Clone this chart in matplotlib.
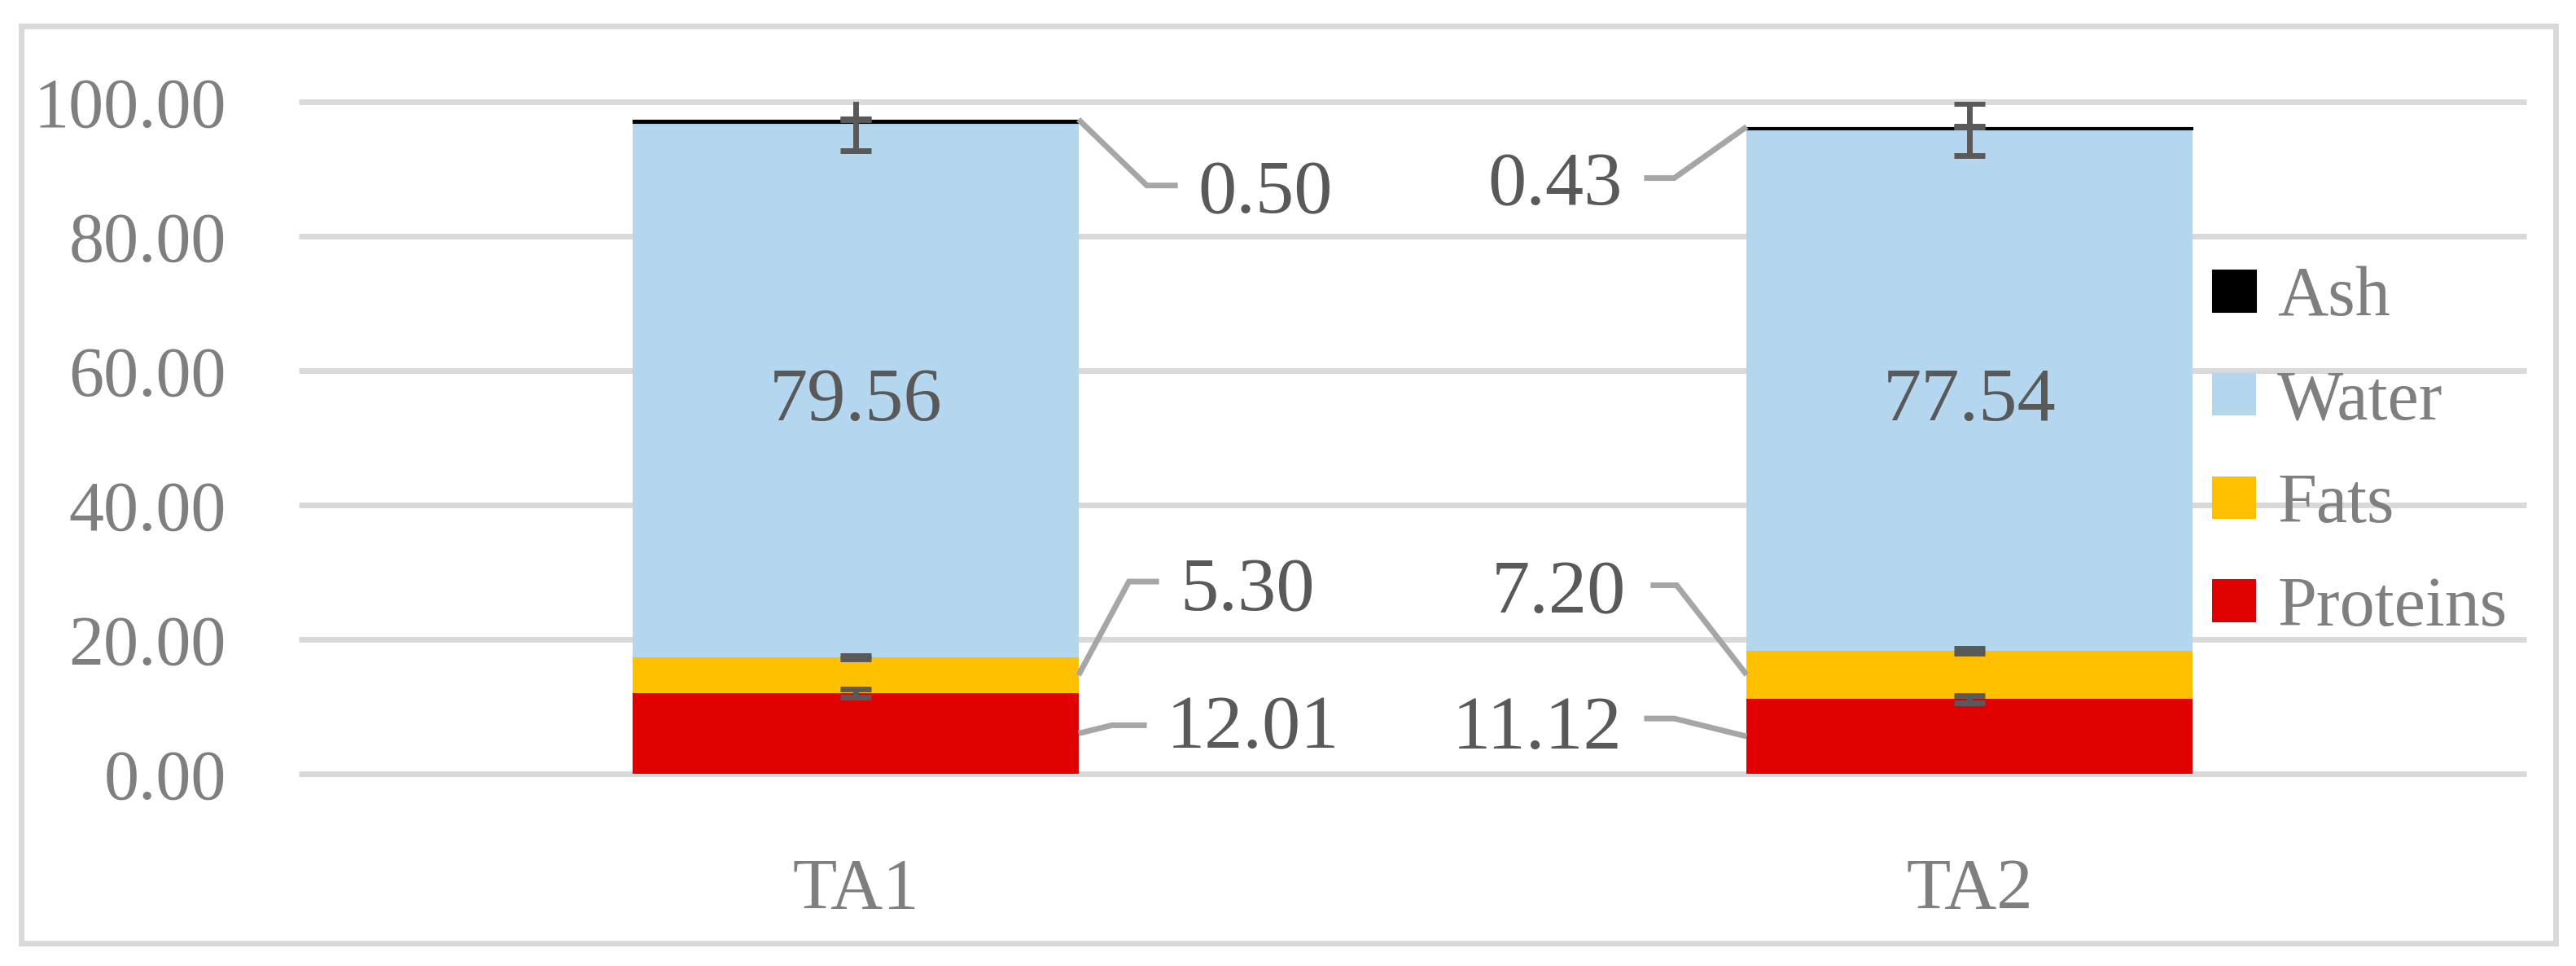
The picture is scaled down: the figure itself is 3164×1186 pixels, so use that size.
import matplotlib
matplotlib.use("Agg")
import matplotlib.pyplot as plt
from matplotlib.patches import Rectangle
import numpy as np

# data
samples = ["TA1", "TA2"]
proteins = [12.01, 11.12]
fats = [5.30, 7.20]
water = [79.56, 77.54]
ash = [0.50, 0.43]

proteins_err = [0.6, 0.55]
fats_err = [0.25, 0.4]
water_err = [4.1, 3.9]
ash_err = [0.03, 0.03]

yticks = [0, 20, 40, 60, 80, 100]

c_prot = "#E00000"
c_fats = "#FFC000"
c_water = "#B4D7EF"
c_ash = "#000000"
grid_c = "#D9D9D9"
tick_c = "#7F7F7F"
lab_c = "#595959"
lead_c = "#A6A6A6"

plt.rcParams["font.family"] = ["Liberation Serif", "DejaVu Serif"]

W, H = 3164, 1186
fig = plt.figure(figsize=(W / 100, H / 100), dpi=100)
ax = fig.add_axes([367 / W, (H - 950) / H, (3103 - 367) / W, (950 - 125) / H])
ax.set_xlim(-0.5, 1.5)
ax.set_ylim(0, 100)

# outer chart border
fig.patches.append(Rectangle((26 / W, (H - 1158) / H), (3139 - 26) / W, (1158 - 32) / H,
                             transform=fig.transFigure, fill=False, ec=grid_c, lw=5))

x = np.arange(len(samples))
bw = 0.4
b1 = np.array(proteins)
b2 = b1 + np.array(fats)
b3 = b2 + np.array(water)
b4 = b3 + np.array(ash)

ax.hlines(yticks, -0.5, 1.5, colors=grid_c, lw=5, zorder=0, clip_on=False)

ax.bar(x, proteins, bw, color=c_prot, label="Proteins", zorder=2, lw=0)
ax.bar(x, fats, bw, bottom=b1, color=c_fats, label="Fats", zorder=2, lw=0)
ax.bar(x, water, bw, bottom=b2, color=c_water, label="Water", zorder=2, lw=0)
ax.bar(x, ash, bw, bottom=b3, color=c_ash, label="Ash", zorder=2, lw=0.8, ec=c_ash)

for tops, err in [(b1, proteins_err), (b2, fats_err), (b3, water_err), (b4, ash_err)]:
    ax.errorbar(x, tops, yerr=err, fmt="none", ecolor=lab_c, elinewidth=5,
                capsize=13.7, capthick=5, zorder=4)

# labels with leader lines (offsets in pixels)
to_px = ax.transData.transform
to_data = ax.transData.inverted().transform


def leader(xa, ya, elbow, end, txt, tx, tbase, ha):
    p = to_px((xa, ya))
    pts = [p, p + np.array(elbow), p + np.array(end)]
    d = to_data(np.array(pts))
    ax.plot(d[:, 0], d[:, 1], color=lead_c, lw=5, zorder=3, clip_on=False,
            solid_capstyle="butt", solid_joinstyle="miter")
    ax.annotate(txt, (xa, ya), xytext=(tx, tbase), textcoords="offset pixels",
                ha=ha, va="baseline", fontsize=68, color=lab_c, annotation_clip=False)


# TA1 on right side
xr = x[0] + bw / 2
leader(xr, b4[0], (84, -81), (122, -81), f"{ash[0]:.2f}", 147, -115, "left")
leader(xr, b1[0] + fats[0] / 2, (62, 115), (99, 115), f"{fats[0]:.2f}", 125, 80, "left")
leader(xr, proteins[0] / 2, (41, 10), (84, 10), f"{proteins[0]:.2f}", 108, -18, "left")

# TA2 on left side
xl = x[1] - bw / 2
leader(xl, b4[1], (-89, -63), (-126, -63), f"{ash[1]:.2f}", -153, -96, "right")
leader(xl, b1[1] + fats[1] / 2, (-86, 110), (-118, 110), f"{fats[1]:.2f}", -148, 76, "right")
leader(xl, proteins[1] / 2, (-89, 22), (-126, 22), f"{proteins[1]:.2f}", -153, -15, "right")

# water labels inside
for i in range(len(samples)):
    ax.annotate(f"{water[i]:.2f}", (x[i], b2[i] + water[i] / 2), xytext=(0, -37),
                textcoords="offset pixels", ha="center", va="baseline",
                fontsize=68, color=lab_c)

ax.set_yticks(yticks)
ax.set_yticklabels([f"{v:.2f}" for v in yticks])
ax.set_xticks(x)
ax.set_xticklabels(samples)
ax.tick_params(axis="y", length=0, pad=64, labelsize=62, labelcolor=tick_c)
ax.tick_params(axis="x", length=0, pad=74, labelsize=64, labelcolor=tick_c)
for s in ax.spines.values():
    s.set_visible(False)

h, l = ax.get_legend_handles_labels()
fig.legend(h[::-1], l[::-1], loc="center left", bbox_to_anchor=(2717 / W, 1 - 557 / H),
           frameon=False, fontsize=62, labelcolor=tick_c, handlelength=0.63,
           handleheight=0.56, handletextpad=0.3, labelspacing=0.55,
           borderpad=0, borderaxespad=0)

fig.savefig("out.png", dpi=100)
